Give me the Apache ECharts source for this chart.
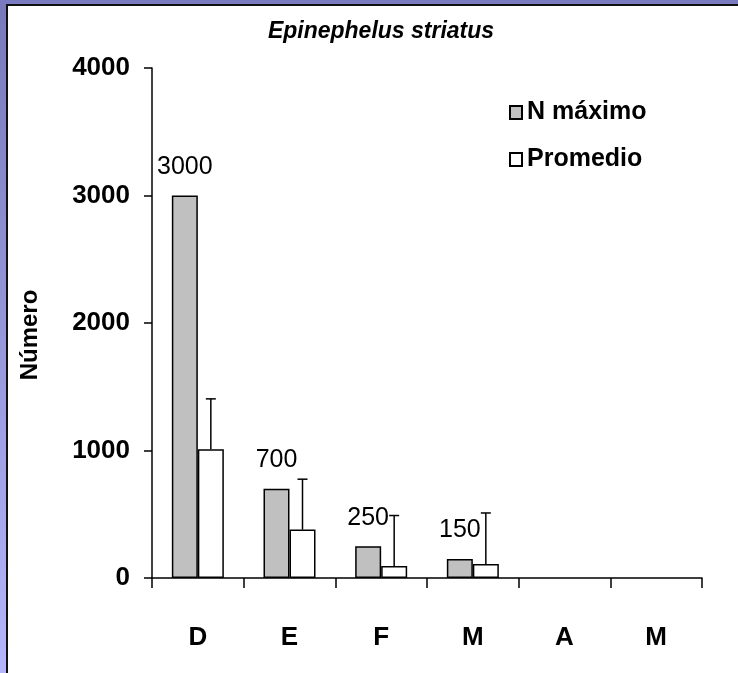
<!DOCTYPE html>
<html>
<head>
<meta charset="utf-8">
<script src="https://cdn.jsdelivr.net/npm/echarts@6/dist/echarts.min.js"></script>
<style>
  html, body { margin: 0; padding: 0; background: #fff; }
  #chart { width: 738px; height: 673px; }
</style>
</head>
<body>
<div id="chart"></div>
<script>
// data
const categories = ['D', 'E', 'F', 'M', 'A', 'M'];
const nMaximo = [3000, 700, 250, 150, null, null];
const promedio = [1010, 380, 95, 110, null, null];
const errorUp = [395, 395, 395, 400, null, null];
const yTicks = [0, 1000, 2000, 3000, 4000];

const font = "'Liberation Sans', Arial, sans-serif";
const BAR_W = 26;

let errData = [];
for (let i = 0; i < categories.length; i++) {
  if (promedio[i] == null) continue;
  errData.push([i, promedio[i], promedio[i] + errorUp[i]]);
}

let myEcharts = echarts.init(document.getElementById('chart'));
let option = {
  backgroundColor: '#fff',
  animation: false,
  title: {
    text: 'Epinephelus striatus',
    left: 376,
    textAlign: 'center',
    top: 15,
    textStyle: {fontFamily: font, fontSize: 23, fontWeight: 'bold', fontStyle: 'italic', color: '#000'}
  },
  legend: {
    orient: 'vertical',
    left: 504,
    top: 95,
    itemWidth: 12,
    itemHeight: 13,
    itemGap: 22,
    icon: 'rect',
    textStyle: {fontFamily: font, fontSize: 25, fontWeight: 'bold', color: '#000'},
    data: ['N máximo', 'Promedio']
  },
  grid: {left: 152, right: 36, top: 68, bottom: 95},
  xAxis: {
    type: 'category',
    data: categories,
    axisLine: {lineStyle: {color: '#000', width: 1.5}},
    axisTick: {show: true, length: 10, lineStyle: {color: '#000', width: 1.5}},
    axisLabel: {fontFamily: font, fontSize: 26, fontWeight: 'bold', color: '#000', margin: 47}
  },
  yAxis: {
    type: 'value',
    min: yTicks[0],
    max: yTicks[yTicks.length - 1],
    interval: 1000,
    splitLine: {show: false},
    axisLine: {show: true, lineStyle: {color: '#000', width: 1.5}},
    axisTick: {show: true, length: 8, lineStyle: {color: '#000', width: 1.5}},
    axisLabel: {fontFamily: font, fontSize: 26, fontWeight: 'bold', color: '#000', margin: 22,
      formatter: function (v) { return String(v); }}
  },
  graphic: [
    {type: 'rect', shape: {x: 0, y: 0, width: 7, height: 673}, z: 100,
      style: {fill: new echarts.graphic.LinearGradient(0, 0, 0, 1, [
        {offset: 0, color: '#7878bd'}, {offset: 1, color: '#b5b5fb'}])}},
    {type: 'rect', shape: {x: 0, y: 0, width: 738, height: 5}, z: 100, style: {fill: '#7a7ac0'}},
    {type: 'rect', shape: {x: 6, y: 4, width: 2, height: 669}, z: 101, style: {fill: '#111'}},
    {type: 'rect', shape: {x: 6, y: 4, width: 732, height: 2}, z: 101, style: {fill: '#111'}},
    {type: 'text', x: 30, y: 335, rotation: Math.PI / 2,
      style: {text: 'Número', fontFamily: font, fontSize: 24, fontWeight: 'bold',
        fill: '#000', textAlign: 'center', textVerticalAlign: 'middle'}}
  ],
  series: [
    {
      name: 'N máximo',
      type: 'bar',
      data: nMaximo,
      barWidth: BAR_W,
      barGap: '0%',
      itemStyle: {color: '#c0c0c0', borderColor: '#000', borderWidth: 1.5},
      label: {show: true, position: 'top', distance: 16, fontFamily: font, fontSize: 25, color: '#000'}
    },
    {
      name: 'Promedio',
      type: 'bar',
      data: promedio,
      barWidth: BAR_W,
      barGap: '0%',
      itemStyle: {color: '#fff', borderColor: '#000', borderWidth: 1.5}
    },
    {
      type: 'custom',
      data: errData,
      z: 5,
      renderItem: function (params, api) {
        let p0 = api.coord([api.value(0), api.value(1)]);
        let p1 = api.coord([api.value(0), api.value(2)]);
        let x = p0[0] + BAR_W / 2;
        let style = {stroke: '#000', lineWidth: 1.5};
        return {
          type: 'group',
          children: [
            {type: 'line', shape: {x1: x, y1: p0[1], x2: x, y2: p1[1]}, style: style},
            {type: 'line', shape: {x1: x - 5, y1: p1[1], x2: x + 5, y2: p1[1]}, style: style}
          ]
        };
      }
    }
  ]
};
myEcharts.setOption(option);
</script>
</body>
</html>
